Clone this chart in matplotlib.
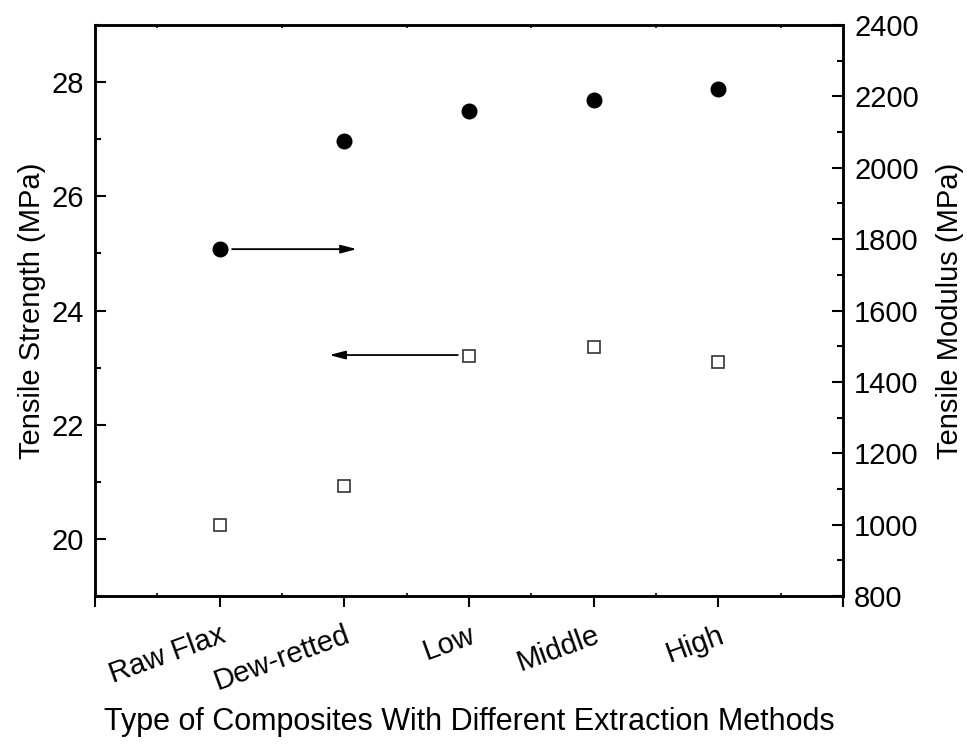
import numpy as np
import matplotlib
matplotlib.use("Agg")
import matplotlib.pyplot as plt
from matplotlib.ticker import MultipleLocator, FixedLocator

plt.rcParams['font.family'] = ['Liberation Sans', 'DejaVu Sans']

# Dane
categories = ['Raw Flax', 'Dew-retted', 'Low', 'Middle', 'High']
strength = [20.24, 20.92, 23.20, 23.36, 23.10]      # lewa os (MPa)
modulus = [1772, 2075, 2160, 2190, 2220]            # prawa os (MPa)

# strzalki wskazujace os
arrow_modulus = {'x_from': 1.1, 'x_to': 2.1, 'y': 1772}
arrow_strength = {'x_from': 2.91, 'x_to': 1.88, 'y': 23.22}

x = np.arange(1, len(categories) + 1)

fig = plt.figure(figsize=(9.67, 7.45), dpi=100)
ax1 = fig.add_axes([0.0982, 0.2, 0.7736, 0.7664])
ax2 = ax1.twinx()

# Wytrzymalosc - puste kwadraty
ax1.plot(x, strength, linestyle='none', marker='s', markersize=8.5,
         markerfacecolor='white', markeredgecolor='#333333', markeredgewidth=1.2)
# Modul - pelne kola
ax2.plot(x, modulus, linestyle='none', marker='o', markersize=10.5,
         color='black')

ax1.set_xlim(0, 6)
ax1.set_ylim(19, 29)
ax2.set_ylim(800, 2400)

ax1.xaxis.set_major_locator(FixedLocator(range(0, 7)))
ax1.set_xticklabels([''] + categories + [''], rotation=20, ha='right',
                    rotation_mode='anchor', fontsize=21)
ax1.xaxis.set_minor_locator(MultipleLocator(0.5))

ax1.yaxis.set_major_locator(FixedLocator([20, 22, 24, 26, 28]))
ax1.yaxis.set_minor_locator(MultipleLocator(1))
ax2.yaxis.set_major_locator(MultipleLocator(200))
ax2.yaxis.set_minor_locator(MultipleLocator(100))

ax1.tick_params(axis='x', which='major', direction='out', length=8, width=1.5,
                pad=10, top=False)
ax1.tick_params(axis='x', which='minor', direction='in', length=2.5, width=1.2,
                top=True)
ax1.tick_params(axis='y', which='major', direction='in', length=8, width=1.5,
                labelsize=21, pad=8)
ax1.tick_params(axis='y', which='minor', direction='in', length=4, width=1.5)
ax2.tick_params(axis='y', which='major', direction='in', length=8, width=1.5,
                labelsize=21, pad=8)
ax2.tick_params(axis='y', which='minor', direction='in', length=4, width=1.5)

for ax in (ax1, ax2):
    for s in ax.spines.values():
        s.set_linewidth(1.8)

ax1.set_ylabel('Tensile Strength (MPa)', fontsize=21, labelpad=4)
ax2.set_ylabel('Tensile Modulus (MPa)', fontsize=21, labelpad=12)
ax1.set_xlabel('Type of Composites With Different Extraction Methods',
               fontsize=22, labelpad=8)

# Strzalki
ax2.annotate('', xy=(arrow_modulus['x_to'], arrow_modulus['y']),
             xytext=(arrow_modulus['x_from'], arrow_modulus['y']),
             arrowprops=dict(arrowstyle='-|>,head_length=0.95,head_width=0.25',
                             color='black', lw=1.3, shrinkA=0, shrinkB=0))
ax1.annotate('', xy=(arrow_strength['x_to'], arrow_strength['y']),
             xytext=(arrow_strength['x_from'], arrow_strength['y']),
             arrowprops=dict(arrowstyle='-|>,head_length=0.95,head_width=0.25',
                             color='black', lw=1.3, shrinkA=0, shrinkB=0))

fig.savefig('out.png', dpi=100)
